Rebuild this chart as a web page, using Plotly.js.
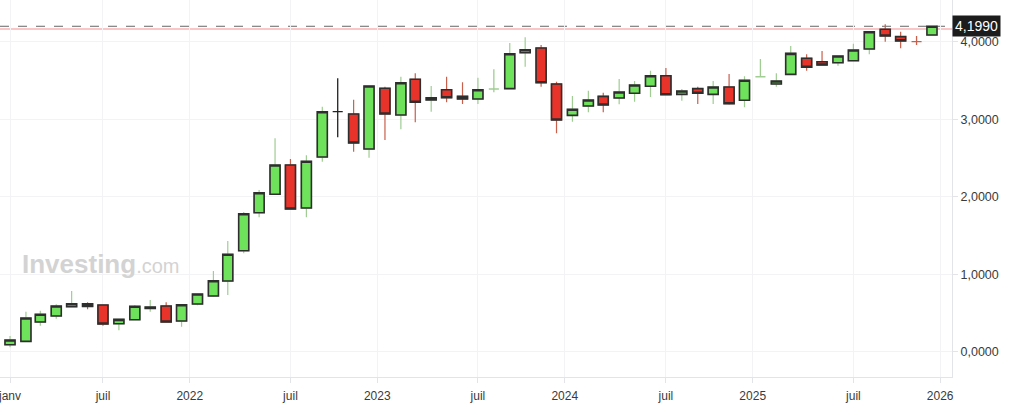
<!DOCTYPE html>
<html>
<head>
<meta charset="utf-8">
<script src="https://cdn.plot.ly/plotly-3.0.1.min.js"></script>
<style>
  html, body { margin: 0; padding: 0; background: #fff; }
  #chart { width: 1024px; height: 415px; }
</style>
</head>
<body>
<div id="chart"></div>
<script>
// ---- data (monthly candles) ----
const months = [
  '2021-01-01','2021-02-01','2021-03-01','2021-04-01','2021-05-01','2021-06-01',
  '2021-07-01','2021-08-01','2021-09-01','2021-10-01','2021-11-01','2021-12-01',
  '2022-01-01','2022-02-01','2022-03-01','2022-04-01','2022-05-01','2022-06-01',
  '2022-07-01','2022-08-01','2022-09-01','2022-10-01','2022-11-01','2022-12-01',
  '2023-01-01','2023-02-01','2023-03-01','2023-04-01','2023-05-01','2023-06-01',
  '2023-07-01','2023-08-01','2023-09-01','2023-10-01','2023-11-01','2023-12-01',
  '2024-01-01','2024-02-01','2024-03-01','2024-04-01','2024-05-01','2024-06-01',
  '2024-07-01','2024-08-01','2024-09-01','2024-10-01','2024-11-01','2024-12-01',
  '2025-01-01','2025-02-01','2025-03-01','2025-04-01','2025-05-01','2025-06-01',
  '2025-07-01','2025-08-01','2025-09-01','2025-10-01','2025-11-01','2025-12-01'
];
const openVals = [
  0.090,0.134,0.383,0.461,0.581,0.619,0.603,0.361,0.413,0.560,0.590,0.396,
  0.615,0.719,0.912,1.303,1.794,2.031,2.409,1.854,2.512,3.097,3.067,2.615,
  3.399,3.054,3.515,3.248,3.381,3.295,3.261,3.390,3.394,3.858,3.919,3.454,
  3.050,3.170,3.295,3.274,3.334,3.425,3.561,3.321,3.394,3.321,3.415,3.244,
  3.548,3.454,3.579,3.786,3.742,3.729,3.755,3.906,4.160,4.065,4.000,4.086
];
const highVals = [
  0.203,0.516,0.529,0.612,0.783,0.637,0.610,0.420,0.603,0.667,0.637,0.610,
  0.750,1.041,1.428,1.803,2.086,2.754,2.486,2.534,3.161,3.528,3.252,3.430,
  3.419,3.548,3.592,3.428,3.548,3.476,3.535,3.644,3.983,4.057,3.957,3.484,
  3.299,3.368,3.342,3.519,3.493,3.626,3.661,3.390,3.419,3.493,3.583,3.554,
  3.777,3.592,3.945,3.837,3.880,3.820,3.974,4.130,4.225,4.129,4.074,4.199
];
const lowVals = [
  0.057,0.128,0.335,0.426,0.575,0.547,0.335,0.276,0.410,0.516,0.380,0.323,
  0.600,0.710,0.732,1.270,1.734,2.025,1.835,1.734,2.452,2.766,2.581,2.503,
  2.732,2.870,2.960,3.097,3.218,3.196,3.196,3.347,3.390,3.677,3.419,2.818,
  2.968,3.089,3.089,3.192,3.226,3.286,3.310,3.239,3.196,3.196,3.190,3.154,
  3.548,3.419,3.570,3.626,3.690,3.690,3.750,3.837,4.000,3.915,3.957,4.086
];
const closeVals = [
  0.151,0.435,0.483,0.590,0.619,0.585,0.357,0.418,0.586,0.575,0.383,0.606,
  0.745,0.916,1.257,1.781,2.052,2.409,1.841,2.457,3.097,3.097,2.693,3.428,
  3.067,3.471,3.218,3.277,3.277,3.261,3.381,3.390,3.845,3.897,3.471,2.990,
  3.128,3.248,3.183,3.351,3.441,3.561,3.316,3.364,3.334,3.415,3.200,3.502,
  3.548,3.493,3.850,3.670,3.699,3.815,3.893,4.129,4.074,4.010,4.000,4.199
];
const xTickVals = ['2021-01-01','2021-07-01','2021-12-17','2022-07-01','2022-12-17','2023-07-01',
  '2023-12-17','2024-07-01','2024-12-17','2025-07-01','2025-12-17'];
const xTickText = ['janv','juil','2022','juil','2023','juil','2024','juil','2025','juil','2026'];
const yTickVals = [0, 1, 2, 3, 4];
const refLevel = 4.165;

// ---- styles ----
const GREEN = '#6ee25b', RED = '#e8332a', OUTLINE = '#2e2e2e';
const WICK_G = '#9fcd92', WICK_R = '#c9604c';

// split candles into normal ones and dojis (open == close)
const norm = [], dojiUp = [], dojiDn = [], dojiFlat = [];
for (let i = 0; i < months.length; i++) {
  if (openVals[i] === closeVals[i]) {
    const prev = i > 0 ? closeVals[i - 1] : closeVals[i];
    if (closeVals[i] > prev) dojiUp.push(i);
    else if (closeVals[i] < prev) dojiDn.push(i);
    else dojiFlat.push(i);
  } else norm.push(i);
}
const pick = (arr, idx) => idx.map(i => arr[i]);

function candle(idx, opts) {
  return Object.assign({
    type: 'candlestick',
    x: pick(months, idx),
    open: pick(openVals, idx),
    high: pick(highVals, idx),
    low: pick(lowVals, idx),
    close: pick(closeVals, idx),
    showlegend: false,
    hoverinfo: 'skip'
  }, opts);
}

const wicks = candle(norm, {
  increasing: { line: { color: WICK_G, width: 1.2 }, fillcolor: GREEN },
  decreasing: { line: { color: WICK_R, width: 1.2 }, fillcolor: RED }
});
const bodies = candle(norm, {
  high: norm.map(i => Math.max(openVals[i], closeVals[i])),
  low: norm.map(i => Math.min(openVals[i], closeVals[i])),
  increasing: { line: { color: OUTLINE, width: 1.6 }, fillcolor: GREEN },
  decreasing: { line: { color: OUTLINE, width: 1.6 }, fillcolor: RED }
});
function dojiTrace(idx, color) {
  return candle(idx, {
    increasing: { line: { color: color, width: 1.3 }, fillcolor: color },
    decreasing: { line: { color: color, width: 1.3 }, fillcolor: color }
  });
}
const traces = [wicks, bodies];
if (dojiUp.length) traces.push(dojiTrace(dojiUp, WICK_G));
if (dojiDn.length) traces.push(dojiTrace(dojiDn, WICK_R));
if (dojiFlat.length) traces.push(dojiTrace(dojiFlat, '#222222'));

const last = closeVals[closeVals.length - 1];
const lastText = last.toFixed(4).replace('.', ',');

const layout = {
  width: 1024, height: 415,
  margin: { l: 0, r: 72, t: 0, b: 38 },
  paper_bgcolor: '#ffffff', plot_bgcolor: '#ffffff',
  separators: ', ',
  font: { family: 'Liberation Sans, Arial, sans-serif', color: '#333333', size: 12 },
  boxgap: 0.3, boxgroupgap: 0,
  showlegend: false,
  xaxis: {
    type: 'date',
    range: ['2020-12-12 12:00', '2026-01-09'],
    tickmode: 'array', tickvals: xTickVals, ticktext: xTickText,
    showgrid: true, gridcolor: '#f3f3f5', gridwidth: 1,
    showline: true, linecolor: '#e3e3ea', linewidth: 1,
    ticks: 'outside', ticklen: 5, tickcolor: '#e3e3ea',
    ticklabelstandoff: 3, ticklabeloverflow: 'allow',
    tickfont: { size: 12, color: '#3a3a3a' },
    zeroline: false, fixedrange: true,
    rangeslider: { visible: false }
  },
  yaxis: {
    side: 'right',
    range: [-0.326, 4.538],
    tickmode: 'array', tickvals: yTickVals, tickformat: '.4f',
    showgrid: true, gridcolor: '#f3f3f5', gridwidth: 1,
    showline: true, linecolor: '#e3e3ea', linewidth: 1,
    ticks: 'outside', ticklen: 5, tickcolor: '#e3e3ea',
    tickfont: { size: 12.5, color: '#3a3a3a' },
    zeroline: false, fixedrange: true
  },
  shapes: [
    { type: 'line', xref: 'paper', yref: 'y', x0: 0, x1: 1, y0: refLevel, y1: refLevel,
      line: { color: 'rgba(240,120,120,0.55)', width: 1.5 }, layer: 'below' },
    { type: 'line', xref: 'paper', yref: 'y', x0: 0, x1: 1, y0: last, y1: last,
      line: { color: '#666666', width: 1, dash: 'dash' }, layer: 'below' }
  ],
  annotations: [
    { xref: 'paper', yref: 'y', x: 1, y: last, xanchor: 'left', yanchor: 'middle',
      text: lastText, showarrow: false, bgcolor: '#1c1c1c', borderpad: 2,
      font: { color: '#ffffff', size: 14, family: 'Liberation Sans, Arial, sans-serif' } },
    { xref: 'paper', yref: 'paper', x: 0.021, y: 0.30, xanchor: 'left', yanchor: 'middle',
      text: '<b>Investing</b><span style="font-size:20px">.com</span>', showarrow: false,
      font: { color: '#d3d3d3', size: 26, family: 'Liberation Sans, Arial, sans-serif' } }
  ]
};

Plotly.newPlot('chart', traces, layout, { displayModeBar: false, staticPlot: true });
</script>
</body>
</html>
